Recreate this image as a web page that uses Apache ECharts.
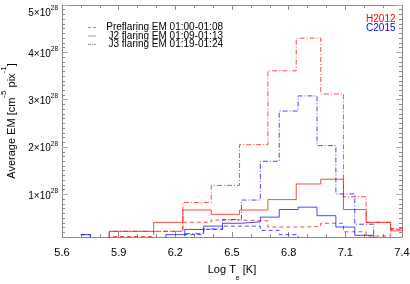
<!DOCTYPE html>
<html>
<head>
<meta charset="utf-8">
<script src="https://cdn.jsdelivr.net/npm/echarts@6/dist/echarts.min.js"></script>
<style>
html,body{margin:0;padding:0;background:#fff;}
#c{width:410px;height:284px;}
</style>
</head>
<body>
<div id="c"></div>
<script>
// Values in units of 1e28 cm^-5 pix^-1 ; x in Log Te [K]
// H2012 (red) histogram bin edges and values (first bin below visible floor)
const redEdges = [5.70, 5.85, 6.085, 6.24, 6.39, 6.54, 6.69, 6.84, 6.97, 7.09, 7.21, 7.34, 7.45];
const redPre   = [0.05, 0.11, 0.22, 0.41, 0.46, 0.44, 0.31, 0.32, 0.39, 0.21, 0.12, 0.26];
const redJ2    = [0.05, 0.22, 0.41, 0.67, 0.58, 0.67, 0.89, 1.22, 1.32, 0.68, 0.41, 0.23];
const redJ3    = [0.05, 0.22, 0.22, 0.83, 1.19, 2.05, 3.61, 4.30, 3.12, 0.95, 0.41, 0.28];

// C2015 (blue) histogram: bin centres and values
const blueCenters = [5.7, 5.8, 5.9, 6.0, 6.1, 6.2, 6.3, 6.4, 6.5, 6.6, 6.7, 6.8, 6.9, 7.0, 7.1, 7.2, 7.3];
const bluePre = [0.15, 0.05, 0.05, 0.05, 0.05, 0.05, 0.15, 0.26, 0.33, 0.33, 0.24, 0.15, 0.05, 0.05, 0.05, 0.05, 0.05];
const blueJ2  = [0.15, 0.05, 0.05, 0.05, 0.05, 0.15, 0.26, 0.33, 0.39, 0.42, 0.52, 0.68, 0.73, 0.55, 0.31, 0.135, 0.05];
const blueJ3  = [0.05, 0.05, 0.05, 0.05, 0.05, 0.05, 0.17, 0.27, 0.47, 0.88, 1.70, 2.76, 3.08, 2.03, 1.01, 0.37, 0.05];

const yMajorTicks = [1, 2, 3, 4, 5];
const legendLabels = ['Preflaring EM 01:00-01:08', 'J2 flaring EM 01:09-01:13', 'J3 flaring EM 01:19-01:24'];
const datasetLabels = ['H2012', 'C2015'];

const RED = 'rgba(255,0,0,0.72)';
const BLUE = 'rgba(0,0,255,0.72)';
const DASH = [4, 3];
const DASHDOT = [5, 2, 1, 2];
const FONT = 'Liberation Sans';

function centersToEdges(c) {
  const e = [c[0]];
  for (let i = 1; i < c.length; i++) e.push((c[i - 1] + c[i]) / 2);
  e.push(c[c.length - 1]);
  return e;
}
function steps(edges, vals) {
  const pts = [];
  vals.forEach((v, i) => { pts.push([edges[i], v]); pts.push([edges[i + 1], v]); });
  return pts;
}
const blueEdges = centersToEdges(blueCenters);

function mkSeries(name, edges, vals, color, type) {
  return {
    name, type: 'line', xAxisIndex: 0, yAxisIndex: 0,
    data: steps(edges, vals), symbol: 'none', showSymbol: false,
    clip: true, silent: true, animation: false,
    lineStyle: { color, width: 1, type }
  };
}

const chart = echarts.init(document.getElementById('c'), null, { renderer: 'canvas' });
const axisGray = '#8a8a8a';
const plotH = 232, yMin = 0.1, yMax = 5;
const pxPerUnit = plotH / (yMax - yMin);

chart.setOption({
  animation: false,
  backgroundColor: '#fff',
  textStyle: { fontFamily: FONT },
  grid: [
    { left: 62, right: 8, top: 5, height: plotH, containLabel: false, outerBoundsMode: 'none' },
    { left: 62, right: 8, top: 5, height: pxPerUnit * (yMax - 1), containLabel: false, outerBoundsMode: 'none' }
  ],
  xAxis: [
    {
      gridIndex: 0, type: 'value', min: 5.6, max: 7.4, interval: 0.3, position: 'bottom',
      axisLine: { lineStyle: { color: axisGray, width: 1 } },
      axisTick: { inside: true, length: 5, lineStyle: { color: axisGray } },
      minorTick: { show: true, splitNumber: 3, length: 3, lineStyle: { color: axisGray } },
      splitLine: { show: false },
      axisLabel: { color: '#000', fontSize: 11, margin: 10, fontFamily: FONT, formatter: v => v.toFixed(1) },
      name: '{m|Log T}{sub|e}{m| [K]}', nameLocation: 'middle', nameGap: 27,
      nameTextStyle: {
        color: '#000', fontFamily: FONT, fontSize: 11,
        rich: {
          m: { fontSize: 11, lineHeight: 12, verticalAlign: 'top', fontFamily: FONT, color: '#000' },
          sub: { fontSize: 7, lineHeight: 18, verticalAlign: 'bottom', fontFamily: FONT, color: '#000' }
        }
      }
    },
    {
      gridIndex: 0, type: 'value', min: 5.6, max: 7.4, interval: 0.3, position: 'top',
      axisLine: { lineStyle: { color: axisGray, width: 1 } },
      axisTick: { inside: true, length: 5, lineStyle: { color: axisGray } },
      minorTick: { show: true, splitNumber: 3, length: 3, lineStyle: { color: axisGray } },
      splitLine: { show: false }, axisLabel: { show: false }
    },
    { gridIndex: 1, type: 'value', min: 5.6, max: 7.4, show: false }
  ],
  yAxis: [
    {
      gridIndex: 0, type: 'value', min: yMin, max: yMax, interval: 0.1, position: 'left',
      axisLine: { show: true, lineStyle: { color: axisGray, width: 1 } },
      axisTick: { show: true, inside: true, length: 3, lineStyle: { color: axisGray } },
      splitLine: { show: false }, axisLabel: { show: false },
      name: '{m|Average EM [cm}{sup|-5}{m| pix}{sup|-1}{m|]}', nameLocation: 'middle', nameRotate: 90, nameGap: 44.5,
      nameTextStyle: {
        color: '#000', fontFamily: FONT, fontSize: 11,
        rich: {
          m: { fontSize: 11, lineHeight: 18, verticalAlign: 'bottom', fontFamily: FONT, color: '#000' },
          sup: { fontSize: 8, lineHeight: 4, verticalAlign: 'top', fontFamily: FONT, color: '#000' }
        }
      }
    },
    {
      gridIndex: 0, type: 'value', min: yMin, max: yMax, interval: 0.1, position: 'right',
      axisLine: { show: true, lineStyle: { color: axisGray, width: 1 } },
      axisTick: { show: true, inside: true, length: 3, lineStyle: { color: axisGray } },
      splitLine: { show: false }, axisLabel: { show: false }
    },
    {
      gridIndex: 1, type: 'value', min: yMajorTicks[0], max: yMajorTicks[yMajorTicks.length - 1], interval: 1, position: 'left',
      axisLine: { show: false },
      axisTick: { show: true, inside: true, length: 6, lineStyle: { color: '#b0b0b0' } },
      splitLine: { show: false },
      axisLabel: {
        show: true, margin: 4, color: '#000', fontFamily: FONT,
        verticalAlignMaxLabel: 'top',
        formatter: v => '{m|' + v + '×10}{s|28}',
        rich: {
          m: { fontSize: 10, lineHeight: 13, verticalAlign: 'bottom', fontFamily: FONT, color: '#000' },
          s: { fontSize: 6.5, lineHeight: 6, verticalAlign: 'top', fontFamily: FONT, color: '#000' }
        }
      }
    },
    {
      gridIndex: 1, type: 'value', min: yMajorTicks[0], max: yMajorTicks[yMajorTicks.length - 1], interval: 1, position: 'right',
      axisLine: { show: false },
      axisTick: { show: true, inside: true, length: 6, lineStyle: { color: '#b0b0b0' } },
      splitLine: { show: false }, axisLabel: { show: false }
    }
  ],
  series: [
    mkSeries('H2012 pre', redEdges, redPre, RED, DASH),
    mkSeries('H2012 J2', redEdges, redJ2, RED, 'solid'),
    mkSeries('H2012 J3', redEdges, redJ3, RED, DASHDOT),
    mkSeries('C2015 pre', blueEdges, bluePre, BLUE, DASH),
    mkSeries('C2015 J2', blueEdges, blueJ2, BLUE, 'solid'),
    mkSeries('C2015 J3', blueEdges, blueJ3, BLUE, DASHDOT)
  ],
  graphic: [
    { type: 'line', shape: { x1: 88, y1: 27.5, x2: 96, y2: 27.5 }, style: { stroke: '#999', lineWidth: 1, lineDash: [3, 2] } },
    { type: 'line', shape: { x1: 88, y1: 36, x2: 96, y2: 36 }, style: { stroke: '#999', lineWidth: 1 } },
    { type: 'line', shape: { x1: 88, y1: 44.5, x2: 96, y2: 44.5 }, style: { stroke: '#999', lineWidth: 1, lineDash: [3, 1, 1, 1] } },
    { type: 'text', style: { text: legendLabels[0], x: 223, y: 27.5, align: 'right', verticalAlign: 'middle', font: '10px "' + FONT + '"', fill: '#000' } },
    { type: 'text', style: { text: legendLabels[1], x: 223, y: 36, align: 'right', verticalAlign: 'middle', font: '10px "' + FONT + '"', fill: '#000' } },
    { type: 'text', style: { text: legendLabels[2], x: 223, y: 44.5, align: 'right', verticalAlign: 'middle', font: '10px "' + FONT + '"', fill: '#000' } },
    { type: 'text', style: { text: datasetLabels[0], x: 395.5, y: 19, align: 'right', verticalAlign: 'middle', font: '10px "' + FONT + '"', fill: '#ff0000' } },
    { type: 'text', style: { text: datasetLabels[1], x: 395.5, y: 28, align: 'right', verticalAlign: 'middle', font: '10px "' + FONT + '"', fill: '#0000ff' } }
  ]
});
</script>
</body>
</html>
